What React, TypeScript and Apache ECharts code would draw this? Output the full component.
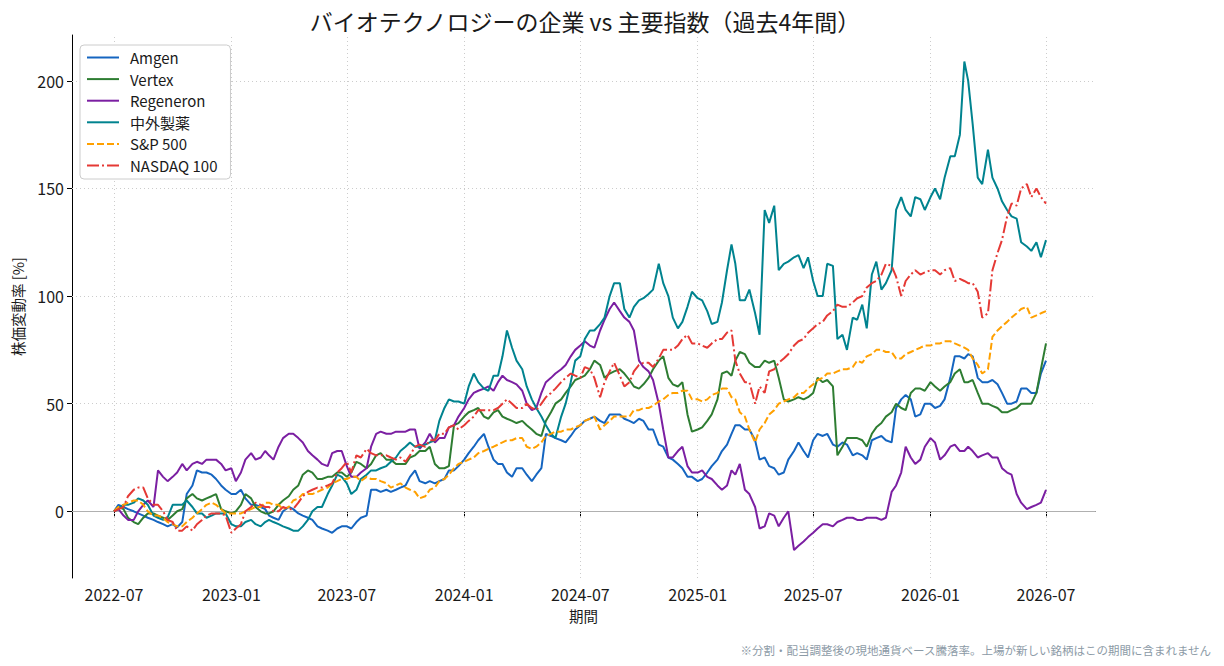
import React, { useEffect, useRef } from "react";
import * as echarts from "echarts";

const FONT = '"Noto Sans CJK JP", "Noto Sans", sans-serif';

// Sample dates: 1st and 16th of each month from 2022-07 to 2026-07
const sampleDates: number[] = (() => {
  const out: number[] = [];
  for (let y = 2022; y <= 2026; y++) {
    for (let m = 0; m < 12; m++) {
      if (y === 2022 && m < 6) continue;
      if (y === 2026 && m > 6) continue;
      out.push(new Date(y, m, 1).getTime());
      if (!(y === 2026 && m === 6)) out.push(new Date(y, m, 16).getTime());
    }
  }
  return out;
})();
// Mid samples lie one week after each sample date (8th and 23rd)
const MID_OFFSET_DAYS = 7;

const xTickLabels = ["2022-07", "2023-01", "2023-07", "2024-01", "2024-07", "2025-01", "2025-07", "2026-01", "2026-07"];
const yTickValues = [0, 50, 100, 150, 200];

// values on the 1st / 16th
const amgen = [
  0, 2, 0, -2, -4, -6, -6, -5, 12, 18, 17, 12, 8, 10, 3, 2, -2, -4, 2, -1,
  -3, -7, -9, -8, -7, -5, -2, 10, 10, 10, 12, 19, 13, 13, 15, 19, 24, 30, 36, 24,
  22, 16, 20, 14, 20, 35, 33, 35, 40, 43, 42, 45, 45, 42, 43, 38, 31, 25, 22, 16,
  14, 18, 24, 31, 40, 38, 33, 25, 20, 18, 28, 28, 33, 35, 31, 32, 26, 26, 33, 35,
  32, 52, 52, 45, 50, 49, 62, 72, 73, 62, 60, 59, 50, 51, 57, 55, 70,
];
// values on the 8th / 23rd
const amgenMid = [
  3, 1, -1, -3, -5, -7, -7.5, 8, 19, 18, 15, 10, 8, 6, 3, 1, -3, 0, 1, -2,
  -4, -8, -10, -7, -8, -3, 10, 9, 9, 11, 16, 14, 14, 14, 19, 21, 27, 33, 30, 22,
  18, 20, 17, 17, 36, 34, 32, 38, 42, 44, 41, 45, 43, 41, 42, 38, 30, 24, 20, 16,
  15, 21, 28, 36, 40, 38, 24, 21, 17, 24, 32, 25, 36, 36, 30, 31, 27, 24, 34, 33,
  48, 54, 44, 50, 48, 52, 72, 71, 72, 60, 61, 55, 50, 57, 55, 64,
];
const vertex = [
  0, 1, -5, -3, -1, -3, -2, 1, 8, 5, 7, 1, -1, 3, 6, 0, -1, 3, 7, 12,
  19, 15, 16, 18, 16, 23, 20, 26, 24, 22, 22, 26, 28, 22, 20, 40, 44, 47, 44, 46,
  44, 42, 42, 38, 35, 46, 52, 58, 62, 66, 68, 64, 66, 61, 57, 62, 70, 62, 58, 45,
  38, 42, 52, 65, 70, 73, 67, 70, 70, 52, 52, 52, 55, 60, 58, 30, 34, 33, 36, 41,
  46, 48, 55, 57, 60, 56, 60, 66, 60, 55, 50, 48, 46, 48, 50, 55, 78,
];
const vertexMid = [
  2, -3, -6, -1, -2, -4, 0, 6, 6, 6, 8, 0, 0, 8, 2, -1, 0, 5, 10, 17,
  18, 15, 16, 18, 18, 22, 22, 27, 24, 22, 25, 28, 30, 20, 21, 41, 46, 48, 43, 47,
  43, 41, 40, 36, 42, 50, 55, 61, 63, 70, 62, 65, 64, 58, 59, 66, 72, 59, 60, 37,
  39, 45, 64, 63, 74, 69, 67, 69, 62, 51, 53, 53, 62, 61, 26, 34, 34, 30, 39, 44,
  50, 47, 57, 56, 58, 58, 64, 60, 61, 50, 49, 46, 47, 50, 50, 66,
];
const regeneron = [
  0, -2, -4, 3, 2, 16, 16, 22, 22, 22, 24, 22, 20, 18, 27, 25, 26, 30, 36, 34,
  28, 24, 21, 28, 21, 16, 20, 36, 36, 37, 37, 38, 32, 32, 34, 40, 48, 55, 57, 56,
  63, 60, 56, 47, 55, 62, 66, 72, 77, 77, 84, 94, 93, 88, 70, 65, 50, 25, 28, 21,
  18, 16, 12, 12, 17, 10, 2, -7, -2, -3, -18, -14, -10, -6, -7, -4, -3, -4, -3, -4,
  9, 18, 25, 24, 34, 24, 30, 28, 30, 25, 27, 25, 18, 8, 1, 3, 10,
];
const regeneronMid = [
  1, -4, 0, 5, 19, 14, 18, 19, 23, 24, 24, 19, 14, 24, 24, 28, 24, 34, 36, 32,
  26, 22, 27, 28, 16, 18, 30, 37, 36, 37, 38, 29, 36, 34, 39, 44, 52, 56, 58, 60,
  61, 59, 50, 48, 60, 64, 68, 75, 79, 76, 89, 97, 90, 84, 67, 61, 38, 25, 30, 18,
  19, 15, 10, 19, 22, 8, -8, -1, -7, 0, -16, -12, -8, -6, -5, -3, -4, -3, -3, -3,
  12, 30, 22, 30, 32, 26, 31, 28, 28, 26, 25, 20, 17, 4, 2, 4,
];
const chugai = [
  0, 3, 4, 5, -2, -4, 3, 3, 2, -1, -2, -1, -6, -7, -4, -7, -4, -6, -8, -9,
  -4, 2, 8, 17, 13, 10, 17, 19, 21, 25, 30, 30, 31, 33, 48, 51, 50, 64, 57, 63,
  72, 76, 66, 52, 44, 36, 44, 60, 72, 84, 87, 100, 106, 90, 98, 101, 115, 100, 85, 95,
  99, 93, 88, 112, 115, 98, 92, 140, 142, 115, 118, 113, 107, 100, 114, 82, 90, 96, 110, 103,
  112, 146, 137, 145, 146, 145, 165, 175, 200, 155, 168, 150, 140, 136, 123, 125, 126,
];
const chugaiMid = [
  1, 3, 6, 3, -3, -3, 3, 5, -1, -3, -1, -1, -7, -5, -6, -5, -5, -7, -9, -7,
  0, 2, 12, 16, 8, 15, 19, 20, 23, 28, 32, 30, 32, 42, 52, 51, 58, 60, 56, 63,
  84, 70, 58, 48, 40, 34, 50, 70, 80, 84, 90, 106, 94, 95, 99, 103, 106, 90, 88, 102,
  98, 87, 97, 124, 98, 103, 82, 134, 112, 116, 119, 118, 100, 115, 80, 75, 89, 85, 116, 106,
  140, 140, 146, 140, 150, 155, 165, 209, 180, 152, 155, 144, 137, 125, 121, 118,
];
const sp500 = [
  0, 3, 5, 3, -2, -3, -6, -7, -3, 1, 4, 1, -1, -1, 1, 2, 4, 3, 2, 6,
  8, 9, 11, 14, 15, 16, 16, 15, 13, 12, 11, 9, 7, 11, 15, 20, 23, 25, 28, 30,
  32, 33, 34, 29, 32, 36, 37, 38, 40, 43, 38, 42, 44, 44, 47, 48, 51, 54, 55, 56,
  52, 52, 55, 57, 52, 44, 32, 41, 47, 51, 53, 55, 59, 62, 64, 66, 67, 69, 73, 75,
  74, 71, 74, 76, 77, 78, 79, 77, 75, 68, 66, 84, 88, 92, 95, 91, 93,
];
const sp500Mid = [
  2, 4, 5, 0, -2, -5, -7, -5, -1, 3, 3, -1, -1, 0, 2, 4, 3, 1, 5, 8,
  8, 10, 13, 15, 16, 14, 15, 14, 11, 13, 10, 6, 10, 14, 17, 22, 24, 27, 29, 31,
  33, 34, 30, 30, 35, 37, 38, 39, 42, 44, 40, 44, 44, 47, 48, 49, 52, 55, 56, 52,
  51, 54, 57, 53, 46, 38, 38, 45, 50, 52, 55, 57, 61, 64, 65, 66, 70, 72, 75, 74,
  71, 73, 75, 77, 78, 79, 78, 76, 71, 64, 81, 86, 90, 94, 90, 92,
];
const nasdaq100 = [
  0, 2, 10, 11, 3, 0, -5, -9, -9, -4, -1, -1, -10, -6, 2, 3, 2, 0, 1, 4,
  9, 11, 12, 18, 23, 26, 29, 26, 26, 24, 23, 30, 30, 33, 36, 40, 40, 44, 47, 47,
  50, 50, 48, 48, 50, 55, 60, 64, 62, 66, 53, 65, 63, 60, 68, 69, 71, 75, 77, 82,
  78, 76, 80, 83, 70, 60, 50, 55, 66, 71, 77, 80, 85, 88, 93, 95, 97, 100, 106, 110,
  114, 100, 110, 110, 112, 110, 113, 108, 106, 102, 92, 120, 137, 142, 152, 150, 143,
];
const nasdaq100Mid = [
  1, 7, 11, 6, 3, -4, -9, -7, -6, -2, -1, -2, -8, 0, 4, 2, 0, 2, 1, 7,
  10, 11, 13, 20, 18, 25, 27, 26, 25, 25, 26, 31, 33, 36, 39, 38, 42, 47, 47, 48,
  52, 48, 50, 47, 53, 57, 62, 63, 67, 62, 60, 69, 58, 65, 69, 67, 75, 75, 80, 78,
  77, 78, 80, 84, 64, 60, 58, 65, 69, 73, 79, 83, 87, 91, 96, 95, 99, 104, 107, 115,
  109, 107, 112, 111, 112, 112, 107, 107, 106, 90, 112, 126, 143, 150, 146, 146,
];

const seriesNames = ["Amgen", "Vertex", "Regeneron", "中外製薬", "S&P 500", "NASDAQ 100"];
const seriesValues = [amgen, vertex, regeneron, chugai, sp500, nasdaq100];
const seriesMidValues = [amgenMid, vertexMid, regeneronMid, chugaiMid, sp500Mid, nasdaq100Mid];
const seriesColors = ["#1565C0", "#2E7D32", "#7B1FA2", "#00838F", "#FFA000", "#E53935"];
const seriesDash: (string | number[])[] = ["solid", "solid", "solid", "solid", [7, 3], [12, 3, 2, 3]];

const TITLE = "バイオテクノロジーの企業 vs 主要指数（過去4年間）";
const X_NAME = "期間";
const Y_NAME = "株価変動率 [%]";
const NOTE = "※分割・配当調整後の現地通貨ベース騰落率。上場が新しい銘柄はこの期間に含まれません";

const DAY = 86400000;
const tickTime = (s: string) => {
  const [y, m] = s.split("-").map(Number);
  return new Date(y, m - 1, 1).getTime();
};

const buildData = (vals: number[], mids: number[]) => {
  const out: [number, number][] = [];
  sampleDates.forEach((t, i) => {
    out.push([t, vals[i]]);
    if (i < mids.length) out.push([t + MID_OFFSET_DAYS * DAY, mids[i]]);
  });
  return out;
};

export default function App() {
  const ref = useRef<HTMLDivElement>(null);
  useEffect(() => {
    if (!ref.current) return;
    const chart = echarts.init(ref.current, null, { renderer: "svg" });
    const xTicks = xTickLabels.map(tickTime);
    const xMin = xTicks[0] - 65.8 * DAY;
    const xMax = xTicks[xTicks.length - 1] + 76.8 * DAY;
    const fmt = (v: number) => {
      const d = new Date(v + 12 * 3600000);
      return `${d.getFullYear()}-${String(d.getMonth() + 1).padStart(2, "0")}`;
    };
    const gridStyle = { color: "#cccccc", width: 1, type: [1, 3] };
    const series: any[] = [
      {
        name: "__grid",
        type: "line",
        data: [],
        z: 1,
        silent: true,
        markLine: {
          silent: true,
          symbol: "none",
          z: 1,
          label: { show: false },
          lineStyle: gridStyle,
          data: [
            ...xTicks.map((t) => ({ xAxis: t })),
            ...yTickValues.map((v) => ({ yAxis: v })),
          ],
        },
      },
      {
        name: "__zero",
        type: "line",
        data: [],
        z: 1,
        silent: true,
        markLine: {
          silent: true,
          symbol: "none",
          z: 2,
          label: { show: false },
          lineStyle: { color: "#b0b0b0", width: 1, type: "solid" },
          data: [{ yAxis: 0 }],
        },
      },
      ...seriesNames.map((name, k) => ({
        name,
        type: "line",
        data: buildData(seriesValues[k], seriesMidValues[k]),
        showSymbol: false,
        symbol: "none",
        lineStyle: { color: seriesColors[k], width: 2, type: seriesDash[k] },
        itemStyle: { color: seriesColors[k] },
        z: 3 + k,
      })),
    ];
    chart.setOption({
      animation: false,
      backgroundColor: "#ffffff",
      textStyle: { fontFamily: FONT },
      title: {
        text: TITLE,
        left: 580,
        textAlign: "center",
        top: 4,
        textStyle: { fontSize: 23, fontWeight: "normal", color: "#1a1a1a", fontFamily: FONT },
      },
      legend: {
        orient: "vertical",
        left: 80,
        top: 45,
        itemWidth: 32,
        itemHeight: 14,
        itemGap: 6.6,
        padding: [5, 13, 6, 6],
        borderColor: "#cccccc",
        borderWidth: 1,
        borderRadius: 4,
        backgroundColor: "#ffffff",
        itemStyle: { opacity: 0 },
        textStyle: { fontSize: 15, color: "#1a1a1a", fontFamily: FONT, padding: [0, 0, 0, 6] },
        data: seriesNames,
      },
      grid: { left: 72, right: 129, top: 35, bottom: 88, containLabel: false },
      xAxis: {
        type: "value",
        min: xMin,
        max: xMax,
        name: X_NAME,
        nameLocation: "middle",
        nameGap: 30,
        nameTextStyle: { fontSize: 14.5, color: "#1a1a1a", fontFamily: FONT },
        axisLine: { show: true, lineStyle: { color: "#000", width: 1 } },
        axisTick: { show: true, length: 5, lineStyle: { color: "#000" }, customValues: xTicks },
        axisLabel: {
          customValues: xTicks,
          formatter: (v: number) => fmt(v),
          fontSize: 16,
          color: "#1a1a1a",
          margin: 8,
          fontFamily: FONT,
        },
        splitLine: { show: false },
      },
      yAxis: {
        type: "value",
        min: -31,
        max: 221.3,
        name: Y_NAME,
        nameLocation: "middle",
        nameGap: 47,
        nameRotate: 90,
        nameTextStyle: { fontSize: 14.5, color: "#1a1a1a", fontFamily: FONT },
        axisLine: { show: true, lineStyle: { color: "#000", width: 1 } },
        axisTick: { show: true, length: 5, lineStyle: { color: "#000" }, customValues: yTickValues },
        axisLabel: {
          customValues: yTickValues,
          fontSize: 16,
          color: "#1a1a1a",
          margin: 8,
          fontFamily: FONT,
        },
        splitLine: { show: false },
      },
      graphic: [
        {
          type: "text",
          right: 12,
          bottom: 10,
          style: { text: NOTE, fontSize: 11.5, fill: "#8c9aa6", fontFamily: FONT },
        },
      ],
      series,
    });
    return () => chart.dispose();
  }, []);
  return <div ref={ref} style={{ position: "fixed", left: 0, top: 0, width: 1224, height: 666 }} />;
}
